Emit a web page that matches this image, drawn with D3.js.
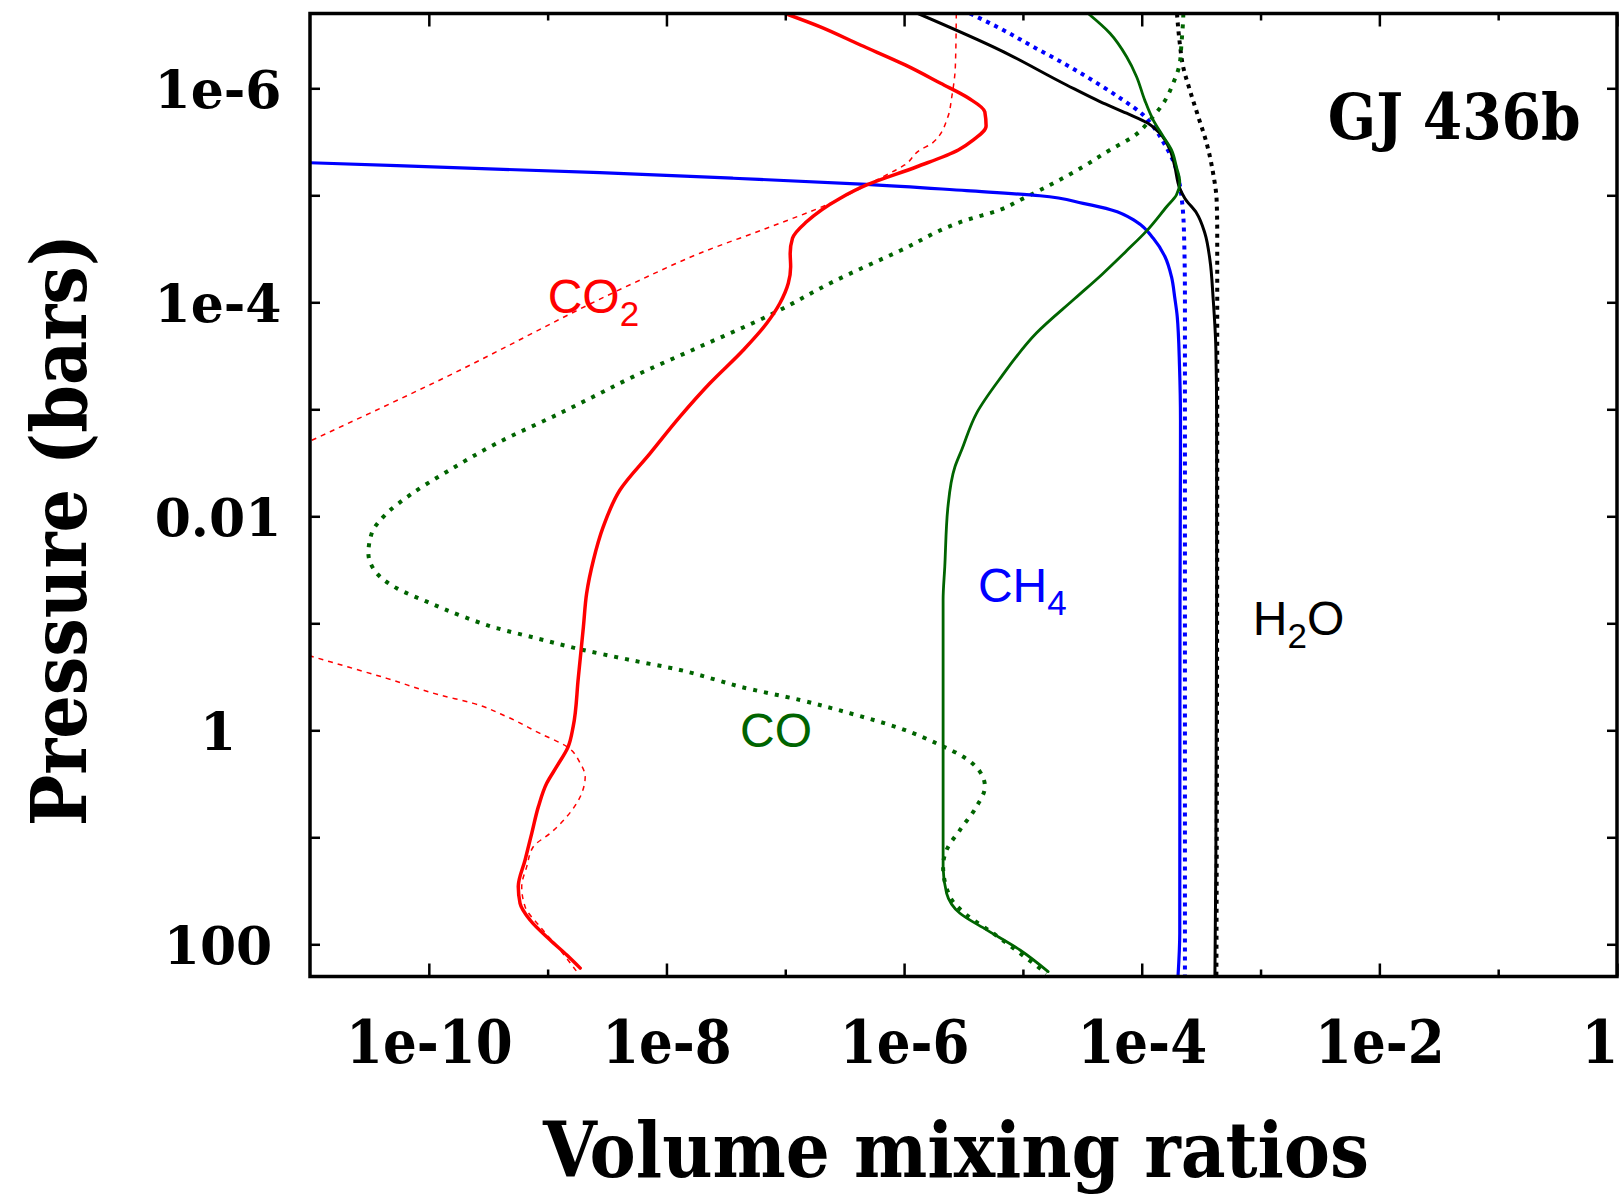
<!DOCTYPE html>
<html>
<head>
<meta charset="utf-8">
<script src="https://cdnjs.cloudflare.com/ajax/libs/d3/7.8.5/d3.min.js"></script>
<style>
  html, body { margin: 0; padding: 0; background: #ffffff; }
  svg { display: block; }
</style>
</head>
<body>
<svg id="chart" width="1619" height="1194"></svg>
<script>
// ---------- tick values and labels ----------
const xMajorTicks = [1e-10, 1e-8, 1e-6, 1e-4, 1e-2, 1];
const xMinorTicks = [1e-9, 1e-7, 1e-5, 1e-3, 1e-1];
const xTickLabels = ["1e-10", "1e-8", "1e-6", "1e-4", "1e-2", "1"];
const yTicks = [1e-6, 1e-5, 1e-4, 1e-3, 1e-2, 1e-1, 1, 10, 100];
const yLabelTicks = [1e-6, 1e-4, 1e-2, 1, 100];
const yTickLabels = ["1e-6", "1e-4", "0.01", "1", "100"];

// ---------- series: [pressure (bar), volume mixing ratio] ----------
const h2oSolid = [
  [2.0e-7, 1.31e-6], [4.39e-7, 6.41e-6], [9.31e-7, 2.33e-5], [1.33e-6, 4.45e-5],
  [1.71e-6, 7.46e-5], [2.12e-6, 1.13e-4], [2.63e-6, 1.42e-4], [3.77e-6, 1.73e-4],
  [5.41e-6, 1.90e-4], [8.61e-6, 2.09e-4], [1.07e-5, 2.31e-4], [1.47e-5, 2.90e-4],
  [2.26e-5, 3.40e-4], [4.02e-5, 3.75e-4], [9.18e-5, 3.99e-4], [2.79e-4, 4.21e-4],
  [1.26e-3, 4.27e-4], [6.05e-2, 4.27e-4], [13.1, 4.21e-4], [200, 4.13e-4]
];
const h2oDotted = [
  [2.0e-7, 1.98e-4], [3.80e-7, 2.09e-4], [6.28e-7, 2.23e-4], [1.04e-6, 2.54e-4],
  [1.84e-6, 2.99e-4], [3.27e-6, 3.52e-4], [6.23e-6, 3.99e-4], [1.11e-5, 4.27e-4],
  [2.26e-5, 4.32e-4], [1.0e-3, 4.32e-4], [1.0, 4.30e-4], [200, 4.25e-4]
];
const ch4Solid = [
  [4.75e-6, 3.1e-12], [4.96e-6, 9.8e-12], [6.15e-6, 2.76e-9], [6.93e-6, 3.65e-8],
  [7.89e-6, 4.84e-7], [9.06e-6, 3.36e-6], [1.01e-5, 1.39e-5], [1.19e-5, 3.21e-5],
  [1.37e-5, 5.57e-5], [1.77e-5, 9.05e-5], [2.52e-5, 1.25e-4], [3.75e-5, 1.57e-4],
  [5.77e-5, 1.78e-4], [9.18e-5, 1.90e-4], [1.36e-4, 1.99e-4], [4.00e-4, 2.08e-4],
  [1.26e-3, 2.12e-4], [6.05e-2, 2.10e-4], [78, 2.09e-4], [200, 2.02e-4]
];
const ch4Dotted = [
  [2.0e-7, 3.58e-6], [2.75e-7, 6.41e-6], [4.09e-7, 1.22e-5], [6.05e-7, 2.33e-5],
  [9.31e-7, 4.45e-5], [1.29e-6, 6.98e-5], [1.78e-6, 1.03e-4], [2.28e-6, 1.25e-4],
  [3.39e-6, 1.57e-4], [5.21e-6, 1.90e-4], [8.01e-6, 2.09e-4], [1.03e-5, 2.16e-4],
  [1.96e-5, 2.26e-4], [9.18e-5, 2.31e-4], [200, 2.31e-4]
];
const coSolid = [
  [2.0e-7, 3.54e-5], [3.06e-7, 5.40e-5], [5.07e-7, 7.46e-5], [7.79e-7, 9.05e-5],
  [1.29e-6, 1.06e-4], [1.98e-6, 1.25e-4], [2.83e-6, 1.52e-4], [3.77e-6, 1.78e-4],
  [5.41e-6, 1.96e-4], [7.46e-6, 2.09e-4], [9.93e-6, 1.96e-4], [1.28e-5, 1.62e-4],
  [2.15e-5, 1.10e-4], [3.30e-5, 7.46e-5], [5.40e-5, 4.70e-5], [9.18e-5, 2.75e-5],
  [1.94e-4, 1.30e-5], [4.95e-4, 6.60e-6], [1.09e-3, 4.07e-6], [2.40e-3, 3.05e-6],
  [3.44e-3, 2.68e-6], [8.13e-3, 2.34e-6], [2.96e-2, 2.20e-6], [6.05e-2, 2.13e-6],
  [1.42, 2.13e-6], [18.8, 2.13e-6], [33.4, 2.28e-6], [51.3, 2.95e-6],
  [73.4, 4.96e-6], [113, 9.44e-6], [180, 1.63e-5]
];
const coDotted = [
  [2.0e-7, 2.24e-4], [2.30e-7, 2.23e-4], [3.80e-7, 2.16e-4], [5.84e-7, 2.09e-4],
  [8.98e-7, 1.84e-4], [1.38e-6, 1.52e-4], [1.91e-6, 1.21e-4], [2.83e-6, 8.47e-5],
  [3.77e-6, 5.40e-5], [5.41e-6, 3.21e-5], [8.01e-6, 1.69e-5], [1.11e-5, 9.44e-6],
  [1.37e-5, 6.41e-6], [1.70e-5, 3.36e-6], [3.30e-5, 9.23e-7], [6.41e-5, 2.54e-7],
  [1.27e-4, 7.93e-8], [2.60e-4, 1.91e-8], [4.95e-4, 5.26e-9], [7.09e-4, 2.76e-9],
  [1.05e-3, 1.36e-9], [2.08e-3, 3.73e-10], [3.83e-3, 1.42e-10], [6.32e-3, 6.95e-11],
  [9.38e-3, 4.43e-11], [1.44e-2, 3.31e-11], [2.22e-2, 3.10e-11], [3.41e-2, 3.65e-11],
  [4.71e-2, 5.37e-11], [6.28e-2, 9.62e-11], [8.67e-2, 1.95e-10], [0.111, 3.73e-10],
  [0.138, 8.09e-10], [0.175, 1.88e-9], [0.220, 4.93e-9], [0.273, 1.30e-8],
  [0.339, 2.65e-8], [0.391, 4.16e-8], [0.521, 1.33e-7], [0.693, 3.50e-7],
  [0.958, 9.23e-7], [1.37, 2.00e-6], [1.77, 3.15e-6], [2.44, 4.35e-6],
  [3.36, 4.79e-6], [5.17, 4.07e-6], [8.55, 2.95e-6], [13.1, 2.28e-6],
  [18.8, 2.13e-6], [35.9, 2.43e-6], [53.2, 3.36e-6], [78.9, 5.62e-6],
  [121, 9.44e-6], [187, 1.58e-5]
];
const co2Solid = [
  [2.0e-7, 1.0e-7], [2.65e-7, 1.95e-7], [3.94e-7, 4.29e-7], [6.05e-7, 1.02e-6],
  [8.98e-7, 2.03e-6], [1.24e-6, 3.50e-6], [1.66e-6, 4.78e-6], [2.25e-6, 4.90e-6],
  [3.04e-6, 3.83e-6], [3.77e-6, 2.86e-6], [5.41e-6, 1.28e-6], [8.01e-6, 4.84e-7],
  [1.07e-5, 2.88e-7], [1.77e-5, 1.51e-7], [2.52e-5, 1.15e-7], [3.48e-5, 1.10e-7],
  [4.65e-5, 1.11e-7], [6.64e-5, 1.06e-7], [1.02e-4, 9.01e-8], [1.57e-4, 6.98e-8],
  [2.79e-4, 4.44e-8], [5.71e-4, 2.32e-8], [1.17e-3, 1.30e-8], [2.58e-3, 7.28e-9],
  [5.68e-3, 4.06e-9], [1.25e-2, 2.94e-9], [2.56e-2, 2.43e-9], [5.24e-2, 2.13e-9],
  [0.108, 2.00e-9], [0.327, 1.81e-9], [0.925, 1.64e-9], [1.42, 1.49e-9],
  [2.19, 1.19e-9], [3.13, 9.82e-10], [5.17, 8.36e-10], [9.18, 7.35e-10],
  [16.3, 6.46e-10], [28.9, 5.66e-10], [41.4, 5.86e-10], [59.3, 7.11e-10],
  [91.2, 1.05e-9], [126, 1.45e-9], [167, 1.88e-9]
];
const co2DashedUpper = [
  [2.0e-7, 2.75e-6], [6.28e-7, 2.70e-6], [1.20e-6, 2.52e-6], [1.84e-6, 2.34e-6],
  [3.27e-6, 1.72e-6], [3.77e-6, 1.36e-6], [5.21e-6, 1.01e-6], [5.80e-6, 8.53e-7],
  [7.46e-6, 5.50e-7], [1.19e-5, 2.38e-7], [2.03e-5, 6.98e-8], [3.48e-5, 1.91e-8],
  [6.64e-5, 5.26e-9], [5.32e-4, 1.24e-10], [1.62e-3, 1.48e-11], [2.67e-3, 5.6e-12]
];
const co2DashedLower = [
  [0.167, 5.6e-12], [0.229, 1.48e-11], [0.327, 4.43e-11], [0.468, 1.24e-10],
  [0.560, 2.37e-10], [0.746, 4.53e-10], [1.07, 8.63e-10], [1.42, 1.45e-9],
  [2.03, 1.88e-9], [2.72, 2.07e-9], [4.18, 1.88e-9], [6.41, 1.45e-9],
  [9.18, 1.05e-9], [12.2, 7.59e-10], [18.8, 6.67e-10], [28.9, 6.05e-10],
  [44.5, 6.46e-10], [68.4, 8.63e-10], [113, 1.27e-9], [180, 1.76e-9]
];

// ---------- annotation texts ----------
const speciesLabels = [
  { main: "CO", sub: "2", tail: "", color: "#ff0000", vmr: 1.0e-9, p: 1.27e-4 },
  { main: "CH", sub: "4", tail: "", color: "#0000ff", vmr: 4.18e-6, p: 6.32e-2 },
  { main: "H", sub: "2", tail: "O", color: "#000000", vmr: 8.61e-4, p: 0.129 },
  { main: "CO", sub: "", tail: "", color: "#006400", vmr: 4.16e-8, p: 1.42 }
];
const planetName = "GJ 436b";
const xTitle = "Volume mixing ratios";
const yTitle = "Pressure (bars)";

(function () {
  // ---------- layout ----------
  const W = 1619, H = 1194;
  const pL = 310, pR = 1617, pT = 13.5, pB = 976.5;
  const SERIF = "'DejaVu Serif', serif";
  const SERIF_C = "'DejaVu Serif Condensed', 'DejaVu Serif', serif";
  const SANS = "'Liberation Sans', Arial, Helvetica, sans-serif";

  const svg = d3.select("#chart");
  svg.append("rect").attr("width", W).attr("height", H).attr("fill", "#fff");

  const x = d3.scaleLog().domain([1e-11, 1]).range([pL, pR]);
  const y = d3.scaleLog().domain([2e-7, 200]).range([pT, pB]);

  svg.append("defs").append("clipPath").attr("id", "plotclip")
    .append("rect").attr("x", pL).attr("y", pT)
    .attr("width", pR - pL).attr("height", pB - pT);

  const line = d3.line()
    .x(d => x(d[1]))
    .y(d => y(d[0]))
    .curve(d3.curveMonotoneY);

  const plot = svg.append("g").attr("clip-path", "url(#plotclip)");

  const series = [
    { data: co2DashedUpper, color: "#ff0000", width: 1.5, dash: "5,5", cap: "butt" },
    { data: co2DashedLower, color: "#ff0000", width: 1.5, dash: "5,5", cap: "butt" },
    { data: ch4Dotted, color: "#0000ff", width: 4, dash: "4,5", cap: "butt" },
    { data: h2oDotted, color: "#000000", width: 4, dash: "4,5", cap: "butt" },
    { data: coDotted, color: "#006400", width: 4, dash: "4,7", cap: "butt" },
    { data: h2oSolid, color: "#000000", width: 3, dash: null, cap: "round" },
    { data: ch4Solid, color: "#0000ff", width: 3.2, dash: null, cap: "round" },
    { data: coSolid, color: "#006400", width: 2.8, dash: null, cap: "round" },
    { data: co2Solid, color: "#ff0000", width: 3.5, dash: null, cap: "round" }
  ];

  series.forEach(s => {
    plot.append("path")
      .attr("d", line(s.data))
      .attr("fill", "none")
      .attr("stroke", s.color)
      .attr("stroke-width", s.width)
      .attr("stroke-linecap", s.cap)
      .attr("stroke-linejoin", "round")
      .attr("stroke-dasharray", s.dash);
  });

  // ---------- axes ----------
  function styleAxis(g) {
    g.select(".domain").remove();
    g.selectAll(".tick line").attr("stroke", "#000").attr("stroke-width", 2.5);
  }

  const gxB = svg.append("g").attr("transform", `translate(0,${pB})`)
    .call(d3.axisBottom(x).tickValues(xMajorTicks).tickSize(-13)
      .tickFormat((d, i) => xTickLabels[i]));
  styleAxis(gxB);
  gxB.selectAll(".tick text")
    .attr("y", 86).attr("dy", 0)
    .attr("fill", "#000")
    .style("font-family", SERIF_C).style("font-stretch", "condensed")
    .style("font-weight", "bold")
    .style("font-size", "59px");
  // keep the last label ("1") inside the picture at the right edge
  gxB.selectAll(".tick text").filter((d, i) => i === xMajorTicks.length - 1)
    .attr("text-anchor", "end").attr("x", 1);
  const gxBm = svg.append("g").attr("transform", `translate(0,${pB})`)
    .call(d3.axisBottom(x).tickValues(xMinorTicks).tickSize(-7).tickFormat(""));
  styleAxis(gxBm);
  const gxT = svg.append("g").attr("transform", `translate(0,${pT})`)
    .call(d3.axisTop(x).tickValues(xMajorTicks).tickSize(-13).tickFormat(""));
  styleAxis(gxT);
  const gxTm = svg.append("g").attr("transform", `translate(0,${pT})`)
    .call(d3.axisTop(x).tickValues(xMinorTicks).tickSize(-7).tickFormat(""));
  styleAxis(gxTm);

  const gyL = svg.append("g").attr("transform", `translate(${pL},0)`)
    .call(d3.axisLeft(y).tickValues(yTicks).tickSize(-10)
      .tickFormat(d => { const i = yLabelTicks.indexOf(d); return i >= 0 ? yTickLabels[i] : ""; }));
  styleAxis(gyL);
  gyL.selectAll(".tick text")
    .attr("x", -92).attr("dy", "0.36em")
    .attr("text-anchor", "middle")
    .attr("fill", "#000")
    .style("font-family", SERIF).style("font-weight", "bold").style("font-size", "52px");
  const gyR = svg.append("g").attr("transform", `translate(${pR},0)`)
    .call(d3.axisRight(y).tickValues(yTicks).tickSize(-10).tickFormat(""));
  styleAxis(gyR);

  svg.append("rect")
    .attr("x", pL).attr("y", pT)
    .attr("width", pR - pL).attr("height", pB - pT)
    .attr("fill", "none").attr("stroke", "#000").attr("stroke-width", 3.5);

  // ---------- titles ----------
  svg.append("text")
    .attr("x", 956).attr("y", 1177)
    .attr("text-anchor", "middle")
    .style("font-family", SERIF_C).style("font-stretch", "condensed")
    .style("font-weight", "bold").style("font-size", "77px")
    .attr("fill", "#000")
    .text(xTitle);

  svg.append("text")
    .attr("transform", "translate(86,530) rotate(-90)")
    .attr("text-anchor", "middle")
    .style("font-family", SERIF_C).style("font-stretch", "condensed")
    .style("font-weight", "bold").style("font-size", "76px")
    .attr("fill", "#000")
    .text(yTitle);

  svg.append("text")
    .attr("x", x(3.68e-3)).attr("y", y(2.98e-6))
    .style("font-family", SERIF_C).style("font-stretch", "condensed")
    .style("font-weight", "bold").style("font-size", "63px")
    .attr("fill", "#000")
    .text(planetName);

  // ---------- species labels ----------
  speciesLabels.forEach(l => {
    const t = svg.append("text")
      .attr("x", x(l.vmr)).attr("y", y(l.p))
      .attr("fill", l.color)
      .style("font-family", SANS).style("font-size", "48px");
    t.append("tspan").text(l.main);
    if (l.sub) t.append("tspan").attr("dy", 13).style("font-size", "35px").text(l.sub);
    if (l.tail) t.append("tspan").attr("dy", -13).text(l.tail);
  });
})();
</script>
</body>
</html>
